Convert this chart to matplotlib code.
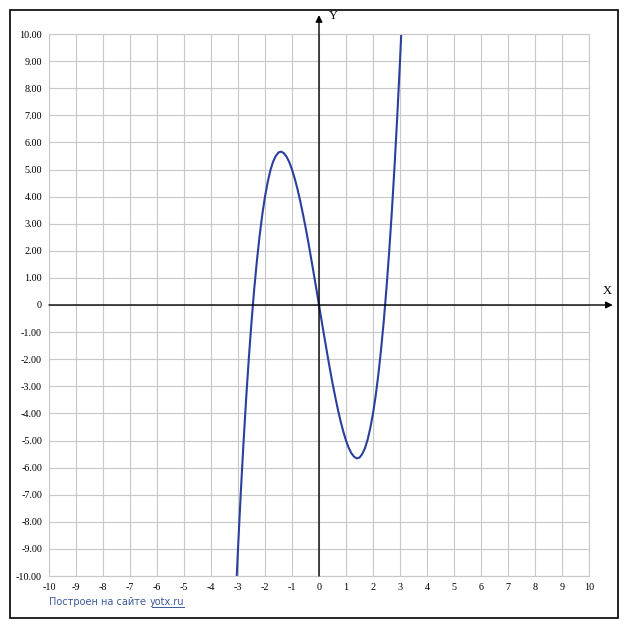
import numpy as np
import matplotlib
matplotlib.use('Agg')
import matplotlib.pyplot as plt
from matplotlib.patches import Rectangle

# Curve points (x step 0.1)
x_pts = [-3.1, -3.0, -2.9, -2.8, -2.7, -2.6, -2.5, -2.4, -2.3, -2.2, -2.1,
         -2.0, -1.9, -1.8, -1.7, -1.6, -1.5, -1.4, -1.3, -1.2, -1.1,
         -1.0, -0.9, -0.8, -0.7, -0.6, -0.5, -0.4, -0.3, -0.2, -0.1,
         0.0, 0.1, 0.2, 0.3, 0.4, 0.5, 0.6, 0.7, 0.8, 0.9,
         1.0, 1.1, 1.2, 1.3, 1.4, 1.5, 1.6, 1.7, 1.8, 1.9,
         2.0, 2.1, 2.2, 2.3, 2.4, 2.5, 2.6, 2.7, 2.8, 2.9, 3.0, 3.1]
y_pts = [-11.19, -9.00, -6.99, -5.15, -3.48, -1.98, -0.63, 0.58, 1.63, 2.55, 3.34,
         4.00, 4.54, 4.97, 5.29, 5.50, 5.63, 5.66, 5.60, 5.47, 5.27,
         5.00, 4.67, 4.29, 3.86, 3.38, 2.88, 2.34, 1.77, 1.19, 0.60,
         0.00, -0.60, -1.19, -1.77, -2.34, -2.88, -3.38, -3.86, -4.29, -4.67,
         -5.00, -5.27, -5.47, -5.60, -5.66, -5.63, -5.50, -5.29, -4.97, -4.54,
         -4.00, -3.34, -2.55, -1.63, -0.58, 0.63, 1.98, 3.48, 5.15, 6.99, 9.00, 11.19]

x_ticks = list(range(-10, 11))
y_ticks = list(range(-10, 11))
y_labels = ['0' if v == 0 else f'{v:.2f}' for v in y_ticks]

W, H = 627, 630
fig = plt.figure(figsize=(W / 100, H / 100), dpi=100)

# outer frame
fig.patches.append(Rectangle((9.5 / W, 1 - 618 / H), (618 - 9.5) / W, (618 - 9.5) / H,
                             transform=fig.transFigure, fill=False,
                             edgecolor='black', lw=1.2))

left, right, top, bottom = 49, 589, 34, 576
ax = fig.add_axes([left / W, 1 - bottom / H, (right - left) / W, (bottom - top) / H])
ax.set_xlim(-10, 10)
ax.set_ylim(-10, 10)
ax.set_xticks(x_ticks)
ax.set_yticks(y_ticks)
ax.set_xticklabels([str(v) for v in x_ticks], fontsize=7.3, family='Liberation Serif')
ax.set_yticklabels(y_labels, fontsize=7.3, family='Liberation Serif')
ax.tick_params(length=0, pad=5)
ax.grid(True, color='#c8c8c8', lw=0.8)
for s in ax.spines.values():
    s.set_color('#c8c8c8')
    s.set_linewidth(0.8)

# axes arrows
ax.annotate('', xy=(10.88, 0), xytext=(-10, 0), annotation_clip=False,
            arrowprops=dict(arrowstyle='-|>', color='black', lw=1.0,
                            mutation_scale=10, shrinkA=0, shrinkB=0))
ax.annotate('', xy=(0, 10.7), xytext=(0, -10), annotation_clip=False,
            arrowprops=dict(arrowstyle='-|>', color='black', lw=1.0,
                            mutation_scale=10, shrinkA=0, shrinkB=0))
ax.text(10.68, 0.52, 'X', fontsize=9, family='Liberation Serif', ha='center', va='center')
ax.text(0.52, 10.67, 'Y', fontsize=9, family='Liberation Serif', ha='center', va='center')

ax.plot(x_pts, y_pts, color='#2b3f9c', lw=1.5)

fs = 7.0
fig.text(left / W, 1 - 602 / H, 'Построен на сайте', fontsize=fs, color='#3c5a9a',
         family='DejaVu Sans', va='center')
t = fig.texts[-1]
fig.canvas.draw()
bb = t.get_window_extent()
x_link = bb.x1 + 4
link = fig.text(x_link / W, 1 - 602 / H, 'yotx.ru', fontsize=fs, color='#3c5a9a',
                family='DejaVu Sans', va='center')
fig.canvas.draw()
bb2 = link.get_window_extent()
fig.add_artist(plt.Line2D([(x_link + 2) / W, (bb2.x1 - 1) / W], [1 - 607 / H, 1 - 607 / H],
                          color='#3c5a9a', lw=0.7))

fig.savefig('out.png', dpi=100)
